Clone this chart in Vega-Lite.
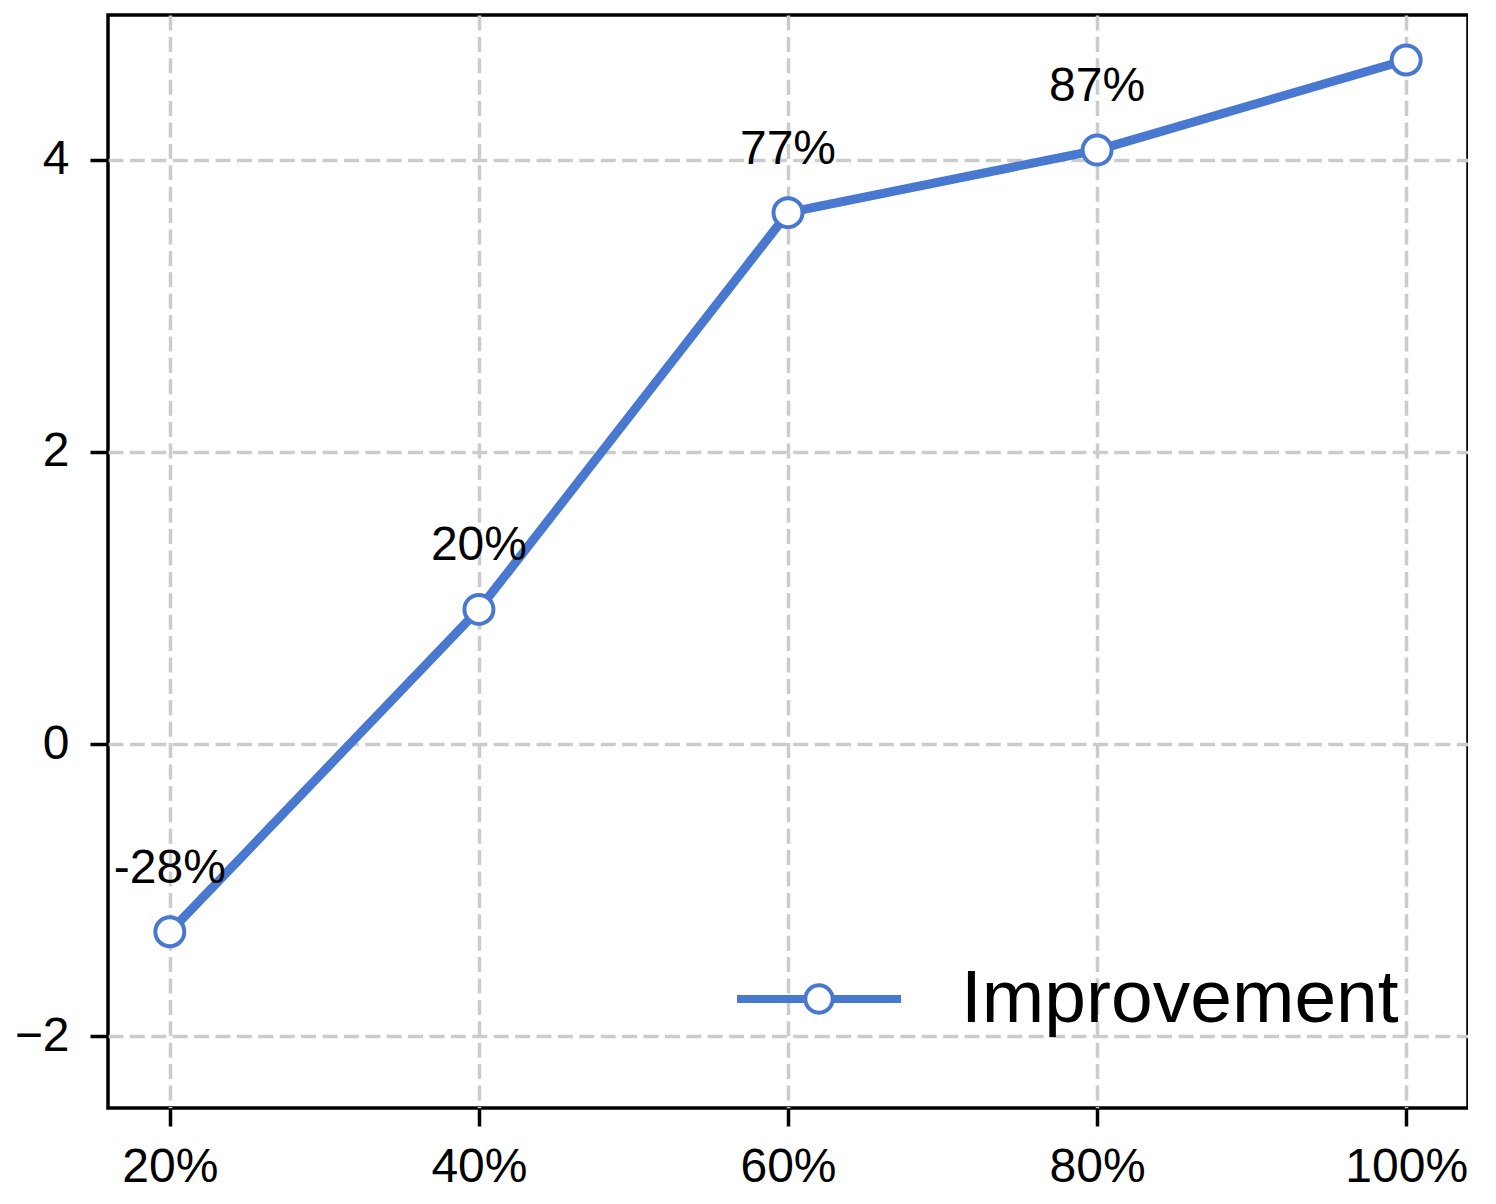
{
  "$schema": "https://vega.github.io/schema/vega-lite/v6.json",
  "width": 1360,
  "height": 1093,
  "padding": {"left": 14, "top": 15, "right": 0, "bottom": 0},
  "background": "white",
  "config": {
    "font": "Liberation Sans",
    "view": {"stroke": "black", "strokeWidth": 3.5},
    "axis": {
      "domain": false,
      "grid": true,
      "gridColor": "#cccccc",
      "gridWidth": 3.5,
      "gridDash": [15, 6.4],
      "ticks": true,
      "tickColor": "black",
      "tickWidth": 3.5,
      "tickSize": 18,
      "labelFont": "Liberation Sans",
      "labelFontSize": 48,
      "labelColor": "black",
      "title": null
    },
    "legend": {
      "labelFont": "Liberation Sans",
      "labelFontSize": 75,
      "labelColor": "black",
      "labelLimit": 0
    }
  },
  "data": {
    "values": [
      {"pct": 20, "value": -1.286, "label": "-28%", "series": "Improvement"},
      {"pct": 40, "value": 0.922, "label": "20%", "series": "Improvement"},
      {"pct": 60, "value": 3.639, "label": "77%", "series": "Improvement"},
      {"pct": 80, "value": 4.068, "label": "87%", "series": "Improvement"},
      {"pct": 100, "value": 4.685, "label": "", "series": "Improvement"}
    ]
  },
  "encoding": {
    "x": {
      "field": "pct",
      "type": "quantitative",
      "scale": {"domain": [16, 104], "nice": false, "zero": false},
      "axis": {"values": [20, 40, 60, 80, 100], "labelExpr": "datum.value + '%'", "labelPadding": 17, "labelFlush": false}
    },
    "y": {
      "field": "value",
      "type": "quantitative",
      "scale": {"domain": [-2.493, 4.993], "nice": false, "zero": false},
      "axis": {"values": [-2, 0, 2, 4], "labelExpr": "datum.value < 0 ? '−' + toString(-datum.value) : toString(datum.value)", "labelPadding": 21, "labelFlush": false}
    }
  },
  "layer": [
    {
      "mark": {"type": "line", "strokeWidth": 9},
      "encoding": {
        "color": {
          "field": "series",
          "type": "nominal",
          "scale": {"domain": ["Improvement"], "range": ["#4878cf"]},
          "legend": {
            "title": null,
            "orient": "none",
            "legendX": 629,
            "legendY": 902,
            "padding": 0,
            "symbolType": "M-1,-0.0244L-0.17,-0.0244L-0.17,0.0244L-1,0.0244Z M0.17,-0.0244L1,-0.0244L1,0.0244L0.17,0.0244Z M0.171,0C0.171,0.0944 0.0944,0.171 0,0.171C-0.0944,0.171 -0.171,0.0944 -0.171,0C-0.171,-0.0944 -0.0944,-0.171 0,-0.171C0.0944,-0.171 0.171,-0.0944 0.171,0Z",
            "symbolSize": 25600,
            "symbolStrokeWidth": 4,
            "symbolFillColor": "white",
            "labelOffset": 60
          }
        }
      }
    },
    {
      "mark": {"type": "point", "shape": "circle", "filled": true, "fill": "white", "stroke": "#4878cf", "strokeWidth": 4, "size": 841, "opacity": 1}
    },
    {
      "transform": [{"filter": "datum.label != ''"}],
      "mark": {"type": "text", "fontSize": 48, "font": "Liberation Sans", "color": "black", "align": "center", "baseline": "alphabetic", "dy": -49},
      "encoding": {"text": {"field": "label"}}
    }
  ]
}
